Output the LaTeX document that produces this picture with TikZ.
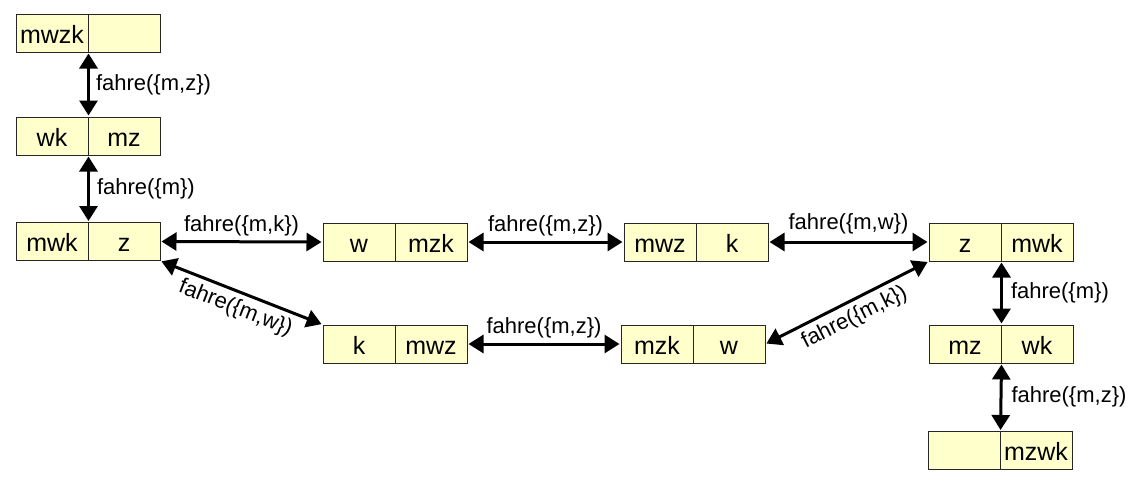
\documentclass[tikz,border=0pt]{standalone}
\usepackage{fontspec}
\setmainfont{Liberation Sans}
\usetikzlibrary{arrows.meta}
\tikzset{
  cell/.style={draw=black!85, line width=1pt, fill={rgb,255:red,255;green,255;blue,204},
    minimum width=72pt, minimum height=38pt, inner sep=0pt, text height=21pt, text depth=1pt,
    font=\fontsize{25}{28}\selectfont},
  link/.style={line width=3pt, {Triangle[length=15pt,width=18pt]}-{Triangle[length=15pt,width=18pt]}, shorten <=1pt, shorten >=1pt},
  lab/.style={font=\fontsize{22}{26}\selectfont, inner sep=1pt}
}
\begin{document}
\begin{tikzpicture}[x=1pt,y=-1pt]
\useasboundingbox (0,0) rectangle (1134,488);
% boxes
\node[cell] (b1l) at (52,33) {mwzk};     \node[cell] (b1r) at (124,33) {};
\node[cell] (b2l) at (52,136) {wk};      \node[cell] (b2r) at (124,136) {mz};
\node[cell] (b3l) at (52,241.5) {mwk};   \node[cell] (b3r) at (124,241.5) {z};
\node[cell] (b4l) at (359,242) {w};      \node[cell] (b4r) at (431,242) {mzk};
\node[cell] (b5l) at (660,242) {mwz};    \node[cell] (b5r) at (732,242) {k};
\node[cell] (b6l) at (965,242) {z};      \node[cell] (b6r) at (1037,242) {mwk};
\node[cell] (b7l) at (359,344) {k};      \node[cell] (b7r) at (431,344) {mwz};
\node[cell] (b8l) at (657,344) {mzk};    \node[cell] (b8r) at (729,344) {w};
\node[cell] (b9l) at (965,344) {mz};     \node[cell] (b9r) at (1037,344) {wk};
\node[cell] (b10l) at (964,450.5) {};    \node[cell] (b10r) at (1036,450.5) {mzwk};
% vertical links
\draw[link] (b1l.south east) -- node[lab, right=5pt] {fahre(\{m,z\})} (b2l.north east);
\draw[link] (b2l.south east) -- node[lab, right=6pt] {fahre(\{m\})} (b3l.north east);
\draw[link] (b6l.south east) -- node[lab, right=7pt] {fahre(\{m\})} (b9l.north east);
\draw[link] (b9l.south east) -- node[lab, right=8pt] {fahre(\{m,z\})} (b10l.north east);
% horizontal links
\draw[link] (b3r.east) -- node[lab, above=3pt] {fahre(\{m,k\})} (b4l.west);
\draw[link] (b4r.east) -- node[lab, above=3pt] {fahre(\{m,z\})} (b5l.west);
\draw[link] (b5r.east) -- node[lab, above=5pt] {fahre(\{m,w\})} (b6l.west);
\draw[link] (b7r.east) -- node[lab, above=3pt] {fahre(\{m,z\})} (b8l.west);
% diagonal links
\draw[link] (b3r.south east) -- node[lab, sloped, below=4pt] {fahre(\{m,w\})} (b7l.north west);
\draw[link] (b8r.east) -- node[lab, sloped, below=4pt] {fahre(\{m,k\})} (b6l.south west);
\end{tikzpicture}
\end{document}
